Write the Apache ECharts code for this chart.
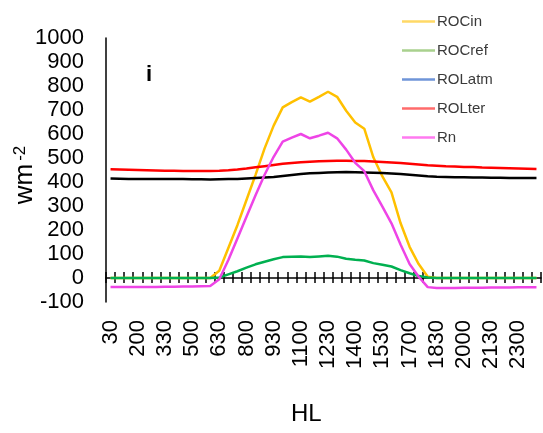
<!DOCTYPE html>
<html>
<head>
<meta charset="utf-8">
<script src="https://cdn.jsdelivr.net/npm/echarts@6/dist/echarts.min.js"></script>
<style>
  html, body { margin: 0; padding: 0; background: #fff; }
  #chart { width: 543px; height: 433px; }
</style>
</head>
<body>
<div id="chart"></div>
<script>
// Half-hourly local time (HL)
const hours = ['30','100','130','200','230','300','330','400','430','500','530','600',
  '630','700','730','800','830','900','930','1000','1030','1100','1130','1200',
  '1230','1300','1330','1400','1430','1500','1530','1600','1630','1700','1730','1800',
  '1830','1900','1930','2000','2030','2100','2130','2200','2230','2300','2330','2400'];

// Radiation components, W m-2
const ROCin = [0,0,0,0,0,0,0,0,0,0,0,0,
  30,125,220,325,430,540,635,711,733,753,735,755,
  776,755,697,648,622,503,423,357,229,130,58,5,
  0,0,0,0,0,0,0,0,0,0,0,0];
const ROCref = [0,0,0,0,0,0,0,0,0,0,0,0,
  2,15,28,43,57,68,78,87,89,90,87,90,
  93,89,80,76,73,62,55,48,33,20,8,2,
  0,0,0,0,0,0,0,0,0,0,0,0];
const ROLatm = [415,414,413,413,412,412,412,412,412,411,411,410,
  411,412,413,415,417,419,421,425,429,433,436,438,
  440,441,442,441,440,439,437,435,433,430,427,424,
  422,421,420,420,419,419,418,418,417,417,417,417];
const ROLter = [453,452,451,450,449,448,447,447,446,446,446,446,
  447,449,452,456,461,466,471,476,479,482,484,486,
  488,489,489,488,487,485,483,481,479,476,473,470,
  468,466,465,463,462,460,459,458,457,456,455,454];
const Rn = [-38,-38,-38,-37,-37,-37,-36,-36,-35,-35,-34,-33,
  -5,75,165,255,345,430,505,568,585,600,582,593,
  605,582,535,480,445,365,297,228,140,58,5,-38,
  -42,-42,-42,-41,-41,-41,-40,-40,-40,-39,-39,-39];

const FONT = "'Liberation Sans', Arial, sans-serif";
const Y_MIN = -100, Y_MAX = 1000, Y_STEP = 100;

const chart = echarts.init(document.getElementById('chart'), null, { renderer: 'canvas' });

function line(name, data, color, z) {
  return {
    name, type: 'line', data, xAxisIndex: 0, yAxisIndex: 0,
    symbol: 'none', z: z,
    itemStyle: { color },
    lineStyle: { color, width: 2.5 },
    emphasis: { disabled: true }
  };
}

// empty carrier series so the tick-only axes are laid out
function carrier(xi, yi) {
  return {
    type: 'line', data: [], xAxisIndex: xi, yAxisIndex: yi,
    symbol: 'none', silent: true, lineStyle: { opacity: 0 }
  };
}

const tickStyle = { color: '#000', width: 1.5 };

chart.setOption({
  animation: false,
  backgroundColor: '#fff',
  textStyle: { fontFamily: FONT },
  grid: { left: 106, right: 2, top: 38, bottom: 131, containLabel: false, outerBoundsMode: 'none' },
  legend: {
    orient: 'vertical',
    left: 397, top: 9,
    icon: 'rect',
    itemWidth: 33, itemHeight: 2.5,
    itemGap: 14,
    textStyle: { fontFamily: FONT, fontSize: 15, color: '#3a3a3a', padding: [0, 0, 0, -3] },
    data: [
      { name: 'ROCin', itemStyle: { color: '#FFD966' } },
      { name: 'ROCref', itemStyle: { color: '#A9D18E' } },
      { name: 'ROLatm', itemStyle: { color: '#6F95D8' } },
      { name: 'ROLter', itemStyle: { color: '#FF6B6B' } },
      { name: 'Rn', itemStyle: { color: '#FF7AF0' } }
    ]
  },
  xAxis: [
    {
      // labels along the bottom of the plot
      type: 'category', data: hours, boundaryGap: true, position: 'bottom',
      axisLine: { show: false, onZero: false },
      axisTick: { show: false },
      axisLabel: { interval: 2, rotate: 90, margin: 18, fontSize: 22, color: '#000', fontFamily: FONT },
      splitLine: { show: false }
    },
    {
      // zero line with downward ticks
      type: 'category', data: hours, boundaryGap: true, position: 'bottom',
      axisLine: { show: true, onZero: true, onZeroAxisIndex: 0, lineStyle: tickStyle },
      axisTick: { show: true, inside: false, length: 5, interval: 0, lineStyle: tickStyle },
      axisLabel: { show: false },
      splitLine: { show: false }
    },
    {
      // upward ticks on the zero line
      type: 'category', data: hours, boundaryGap: true, position: 'bottom',
      axisLine: { show: false, onZero: true, onZeroAxisIndex: 1 },
      axisTick: { show: true, inside: true, length: 6, interval: 0, lineStyle: tickStyle },
      axisLabel: { show: false },
      splitLine: { show: false }
    }
  ],
  yAxis: [
    {
      type: 'value', min: Y_MIN, max: Y_MAX, interval: Y_STEP,
      axisLine: { show: true, onZero: false, lineStyle: { color: '#000', width: 1.5 } },
      axisTick: { show: false },
      splitLine: { show: false },
      axisLabel: { fontSize: 22, color: '#000', margin: 22, fontFamily: FONT, formatter: v => String(v) },
      name: '{b|wm}{s|-2}',
      nameLocation: 'middle',
      nameGap: 68,
      nameMoveOverlap: false,
      nameRotate: 90,
      nameTextStyle: {
        padding: [0, 10, 0, 0],
        rich: {
          b: { fontSize: 26, color: '#000', fontFamily: FONT, verticalAlign: 'bottom' },
          s: { fontSize: 17, color: '#000', fontFamily: FONT, verticalAlign: 'top', padding: [0, 0, 0, 3] }
        }
      }
    },
    {
      // hidden twin scale for the upward tick row
      type: 'value', min: Y_MIN, max: Y_MAX, interval: Y_STEP, show: false,
      axisLine: { onZero: false }
    }
  ],
  graphic: [
    {
      type: 'text', left: 291, top: 402,
      style: { text: 'HL', fontSize: 24, fontFamily: FONT, fill: '#000' }
    },
    {
      type: 'text', left: 146, top: 64,
      style: { text: 'i', fontSize: 22, fontWeight: 'bold', fontFamily: FONT, fill: '#000' }
    }
  ],
  series: [
    carrier(1, 0),
    carrier(2, 1),
    line('ROCin', ROCin, '#FFC000', 3),
    line('ROCref', ROCref, '#00B050', 4),
    line('ROLatm', ROLatm, '#000000', 5),
    line('ROLter', ROLter, '#FF0000', 6),
    line('Rn', Rn, '#EE44E6', 7)
  ]
});
</script>
</body>
</html>
